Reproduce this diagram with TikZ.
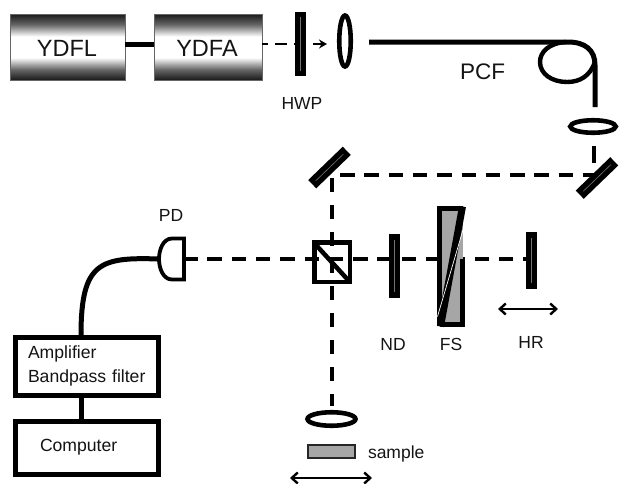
\documentclass[tikz,border=0pt]{standalone}
\usepackage{fontspec}
\setmainfont{Liberation Sans}
\usetikzlibrary{shapes.geometric,arrows.meta,calc}
\pgfdeclareverticalshading{boxshade}{100bp}{color(0bp)=(black!90);color(25bp)=(black!90);color(33bp)=(black!60);color(42bp)=(white);color(58bp)=(white);color(67bp)=(black!60);color(75bp)=(black!90);color(100bp)=(black!90)}
\tikzset{
  every node/.style={outer sep=0pt,text=black!92},
  gradbox/.style={rectangle,draw=black!60,line width=.8pt,shading=boxshade,inner sep=0pt,font=\fontsize{23.5}{26}\selectfont},
  plainbox/.style={rectangle,draw=black,line width=5pt,fill=white,align=left,font=\fontsize{17.6}{24}\selectfont},
  plate/.style={rectangle,fill=black,inner sep=0pt},
  lensnode/.style={ellipse,draw=black,line width=4.6pt,fill=white,inner sep=0pt},
  lbl/.style={font=\fontsize{17.5}{20}\selectfont,inner sep=0pt},
  solidline/.style={line width=5pt},
  beam/.style={line width=4pt,dash pattern=on 14.5pt off 9.8pt},
  vbeam/.style={line width=4pt,dash pattern=on 14pt off 13pt},
  innerline/.style={draw=black!55,line width=.6pt},
  move/.style={line width=2.4pt,{Straight Barb[length=6pt,width=11pt]}-{Straight Barb[length=6pt,width=11pt]}},
}
\begin{document}
\begin{tikzpicture}[x=1pt,y=-1pt]
\useasboundingbox (0,0) rectangle (619,483);
% boxes and components
\node[gradbox,minimum width=115pt,minimum height=66pt] (ydfl) at (67.5,47) {};
\node[gradbox,minimum width=108pt,minimum height=66pt] (ydfa) at (208,47) {};
\node[font=\fontsize{23.5}{26}\selectfont,inner sep=0pt] (ydfltext) at (67,48) {YDFL};
\node[font=\fontsize{23.5}{26}\selectfont,inner sep=0pt] (ydfatext) at (207,48) {YDFA};
\coordinate (pumpend) at (327,44);
\coordinate (ydfaout) at (262,44);
\coordinate (ydflout) at (125,44);
\coordinate (ydfain) at (154,44);
\draw[solidline] (ydflout) -- (ydfain);
\draw[line width=2.6pt,dash pattern=on 12pt off 7pt,dash phase=6pt,-{Stealth[length=8pt,width=9pt]}] (ydfaout) -- (pumpend);
\node[plate,minimum width=11pt,minimum height=64pt] (hwp) at (300,44) {};
\draw[innerline] ($(hwp.north)+(0,5)$) -- ($(hwp.south)+(0,-5)$);
\node[lensnode,minimum width=11.5pt,minimum height=51pt] (lensa) at (345,41) {};
\node[lbl] (hwplabel) at (302,103.5) {HWP};
% fibre
\coordinate (fibstart) at (369,42);
\coordinate (fibend) at (595,107);
\draw[solidline] (fibstart) -- (568,42) .. controls (585,42) and (595,50) .. (595,65) -- (fibend);
\draw[line width=4.4pt] (566,42) .. controls (549,43) and (540,52) .. (540,62) .. controls (540,74) and (552,82) .. (567,82) .. controls (580,82) and (590,76) .. (595,62);
\node[font=\fontsize{22.5}{25}\selectfont,inner sep=0pt] (pcf) at (482.5,71.5) {PCF};
\node[lensnode,minimum width=45.5pt,minimum height=12.5pt] (lensb) at (593,126.5) {};
% beams
\coordinate (mra) at (594,175);
\coordinate (mla) at (340,175);
\coordinate (mlb) at (332,178);
\coordinate (lbtop) at (332,406);
\coordinate (pdout) at (183,259);
\coordinate (hrin) at (528,259);
\coordinate (lensbout) at (594,146);
\draw[vbeam,dash pattern=on 17pt off 100pt] (lensbout) -- (mra);
\draw[beam] (mla) -- (mra);
\draw[vbeam] (mlb) -- (lbtop);
\draw[beam] (pdout) -- (hrin);
% mirrors
\node[plate,rotate=44,minimum width=48pt,minimum height=11.5pt] (mirrorr) at (597,178) {};
\draw[innerline] ($(mirrorr.west)!.1!(mirrorr.east)$) -- ($(mirrorr.west)!.9!(mirrorr.east)$);
\node[plate,rotate=44,minimum width=48pt,minimum height=11.5pt] (mirrorl) at (329.5,167.5) {};
\draw[innerline] ($(mirrorl.west)!.1!(mirrorl.east)$) -- ($(mirrorl.west)!.9!(mirrorl.east)$);
% beam splitter
\node[rectangle,draw=black,line width=4.5pt,minimum width=35.5pt,minimum height=39.5pt,inner sep=0pt] (bs) at (332,262) {};
\draw[line width=4.5pt] ($(bs.north west)+(2,3)$) -- ($(bs.south east)+(-1,-1)$);
% ND
\node[plate,minimum width=11pt,minimum height=64pt] (nd) at (394,266) {};
\draw[innerline] ($(nd.north)+(0,6)$) -- ($(nd.south)+(0,-6)$);
\node[lbl] (ndlabel) at (393,344) {ND};
% FS
\node[rectangle,fill=black!35,minimum width=23pt,minimum height=116pt,inner sep=0pt] (fs) at (451,266.5) {};
\draw[line width=5pt,line join=miter] (fs.north east) -- (fs.north west) -- (fs.south west);
\draw[line width=5pt,line join=miter] (fs.south west) -- (fs.south east) -- ($(fs.east)+(0,-8)$);
\draw[line width=7pt] ($(fs.north east)+(0,-2)$) -- ($(fs.south west)+(1,2)$);
\draw[white,line width=.7pt] ($(fs.north east)+(1.5,18)$) -- ($(fs.south west)+(-2,-8)$);
\node[lbl] (fslabel) at (451,344) {FS};
% HR
\node[plate,minimum width=11pt,minimum height=57pt] (hr) at (531.5,260.5) {};
\draw[innerline] ($(hr.north)+(0,6)$) -- ($(hr.south)+(0,-6)$);
\node[lbl] (hrlabel) at (531,342) {HR};
\coordinate (hrl) at (498,309);
\coordinate (hrr) at (558,309);
\draw[move] (hrl) -- (hrr);
% lens, sample
\node[lensnode,minimum width=48pt,minimum height=13.5pt] (lensc) at (331.5,419) {};
\node[rectangle,draw=black!85,line width=2pt,fill=black!35,minimum width=47pt,minimum height=13.5pt,inner sep=0pt] (sample) at (331.5,451.5) {};
\node[lbl,anchor=mid west] (samplelabel) at (368,456) {sample};
\coordinate (sl) at (290,478);
\coordinate (sr) at (372,478);
\draw[move] (sl) -- (sr);
% detector
\coordinate (pdin) at (159,259);
\draw[line width=3.8pt,line join=miter,fill=white] (184,238.5) -- (172,238.5) .. controls (163,238.5) and (159,250) .. (pdin) .. controls (159,268) and (163,279.5) .. (172,279.5) -- (184,279.5) -- cycle;
\node[lbl] (pdlabel) at (171,215) {PD};
\node[plainbox,minimum width=143pt,minimum height=58pt,text width=117pt,inner xsep=13pt,inner ysep=0pt] (amp) at (86.5,366) {Amplifier\\\mbox{Bandpass filter}};
\node[plainbox,minimum width=143pt,minimum height=53pt,text width=93pt,inner xsep=25pt,inner ysep=0pt] (comp) at (86.5,447.5) {Computer};
\coordinate (ampin) at (81,335);
\draw[solidline] (pdin) .. controls (100,257) and (81,262) .. (ampin);
\draw[solidline] (amp.south -| ampin) -- (comp.north -| ampin);
\end{tikzpicture}
\end{document}
